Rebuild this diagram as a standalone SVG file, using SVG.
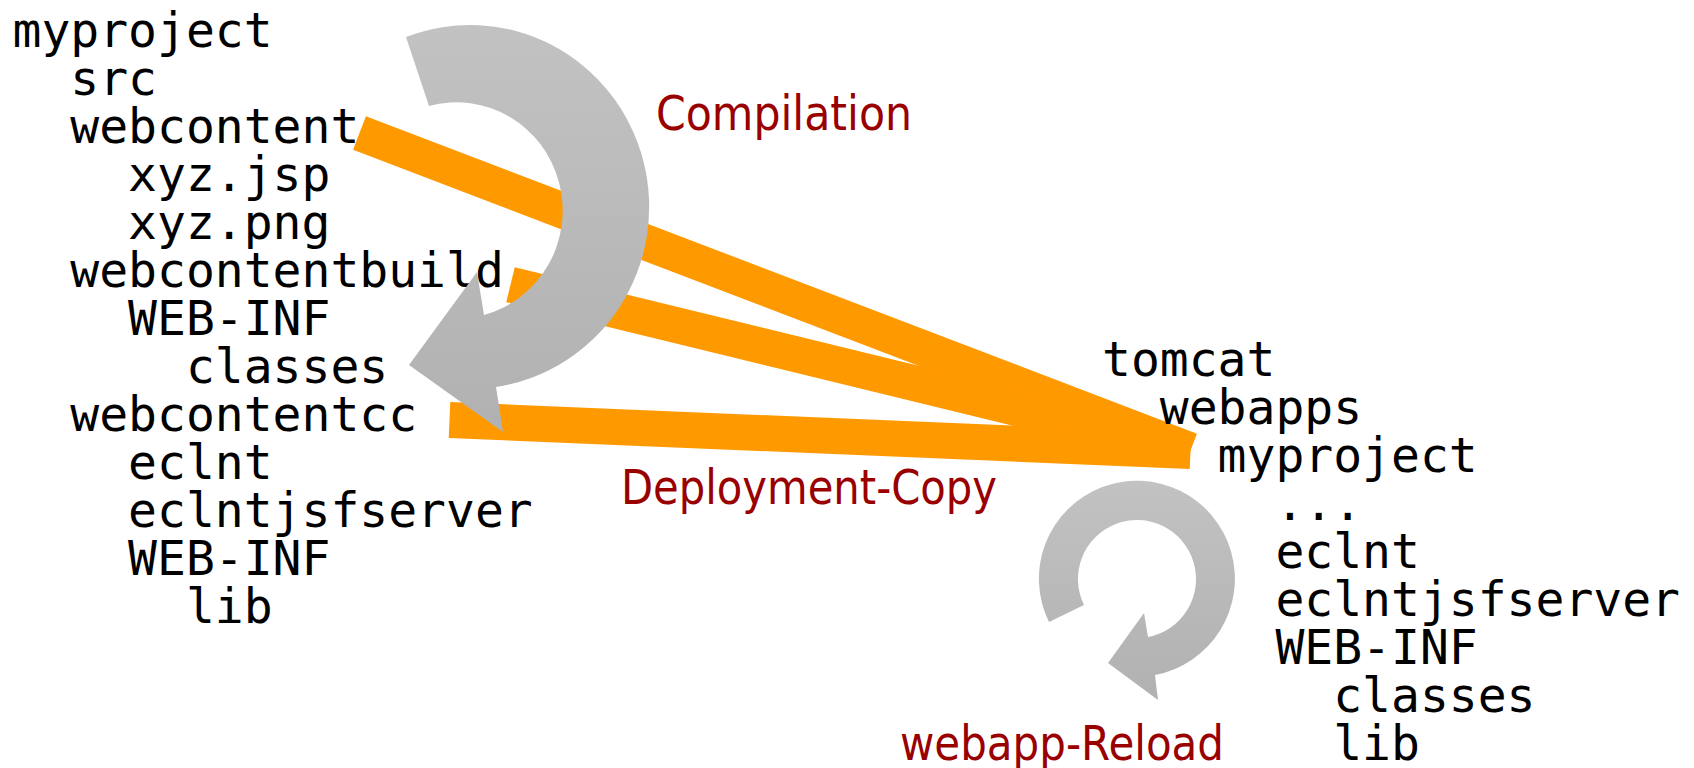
<svg xmlns="http://www.w3.org/2000/svg" width="1694" height="768" viewBox="0 0 1694 768">
<style>
.t{font-family:"DejaVu Sans Mono","Liberation Mono",monospace;font-size:48px;fill:#000}
.lbl{font-family:"DejaVu Sans","Liberation Sans",sans-serif;font-size:48px;fill:#990000}
.band{stroke:#ff9900;stroke-width:36;stroke-linecap:butt;fill:none}
</style>
<defs>
<linearGradient id="g1" x1="0" y1="0" x2="0" y2="1">
<stop offset="0" stop-color="#c2c2c2"/>
<stop offset="1" stop-color="#b1b1b1"/>
</linearGradient>
</defs>
<rect width="1694" height="768" fill="#fff"/>
<g id="connectors">
<line class="band" x1="359.5" y1="133" x2="1190.5" y2="450.5"/>
<line class="band" x1="510.5" y1="284.7" x2="1190.5" y2="450.5"/>
<line class="band" x1="449.5" y1="420" x2="1190.5" y2="451"/>
</g>
<g id="source-tree">
<text class="t" x="12.5" y="46.7">myproject</text>
<text class="t" x="70.3" y="94.7">src</text>
<text class="t" x="70.3" y="142.7">webcontent</text>
<text class="t" x="128.1" y="190.7">xyz.jsp</text>
<text class="t" x="128.1" y="238.7">xyz.png</text>
<text class="t" x="70.3" y="286.7">webcontentbuild</text>
<text class="t" x="128.1" y="334.7">WEB-INF</text>
<text class="t" x="185.9" y="382.7">classes</text>
<text class="t" x="70.3" y="430.7">webcontentcc</text>
<text class="t" x="128.1" y="478.7">eclnt</text>
<text class="t" x="128.1" y="526.7">eclntjsfserver</text>
<text class="t" x="128.1" y="574.7">WEB-INF</text>
<text class="t" x="185.9" y="622.7">lib</text>
</g>
<g id="tomcat-tree">
<text class="t" x="1102" y="375.5">tomcat</text>
<text class="t" x="1159.8" y="423.5">webapps</text>
<text class="t" x="1217.6" y="471.7">myproject</text>
<text class="t" x="1275.4" y="519.8">...</text>
<text class="t" x="1275.4" y="568">eclnt</text>
<text class="t" x="1275.4" y="615.8">eclntjsfserver</text>
<text class="t" x="1275.4" y="663.5">WEB-INF</text>
<text class="t" x="1333.2" y="711.5">classes</text>
<text class="t" x="1333.2" y="759.5">lib</text>
</g>
<g id="compilation-arrow">
<path fill="url(#g1)" d="M406,37 A179,182 0 1 1 496,387 L503,432 L409,365 L477,272 L484,315 A106,108 0 1 0 429,106 Z"/>
</g>
<g id="reload-arrow">
<path fill="url(#g1)" d="M1049,622 A98,98 0 1 1 1155,675 L1158,700 L1108,663 L1144,613 L1148,637 A59,59 0 1 0 1084,605 Z"/>
</g>
<g id="labels">
<text class="lbl" x="656" y="130" textLength="256" lengthAdjust="spacingAndGlyphs">Compilation</text>
<text class="lbl" x="621" y="504" textLength="376" lengthAdjust="spacingAndGlyphs">Deployment-Copy</text>
<text class="lbl" x="900" y="760" textLength="324" lengthAdjust="spacingAndGlyphs">webapp-Reload</text>
</g>
</svg>
